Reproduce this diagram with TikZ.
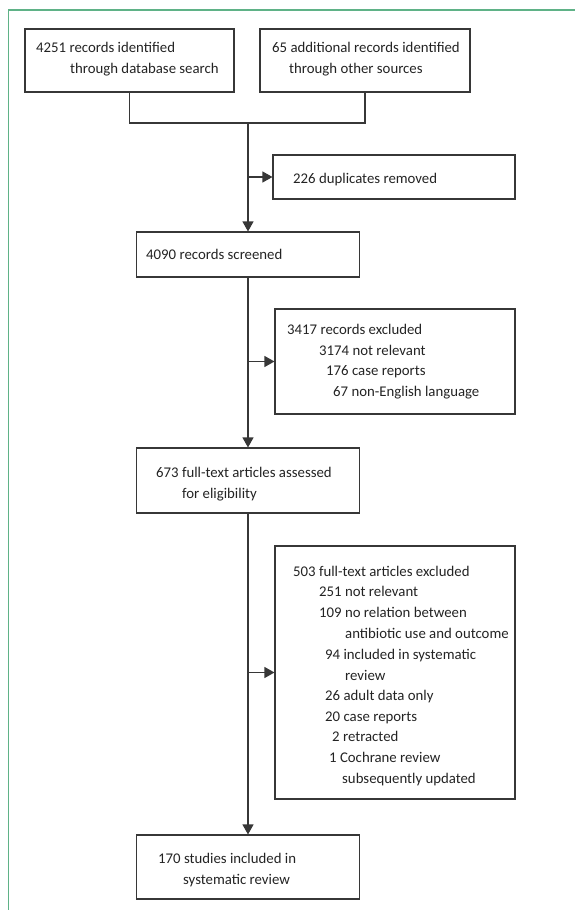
\documentclass[tikz,border=0pt]{standalone}
\usepackage{fontspec}
\setmainfont{Carlito}
\usetikzlibrary{arrows.meta}
\definecolor{framegreen}{RGB}{95,178,135}
\definecolor{linegray}{RGB}{55,55,55}
\definecolor{txtgray}{RGB}{35,35,35}
\tikzset{
  box/.style={draw=linegray, line width=1.1pt, fill=none, inner sep=0pt},
  txt/.style={anchor=base west, inner sep=0pt, text=txtgray, font=\fontsize{14.8}{18}\selectfont},
  conn/.style={draw=linegray, line width=1.1pt},
  arr/.style={conn, -{Triangle[length=10pt,width=11pt]}},
  frame/.style={draw=framegreen, line width=1.5pt}
}
\begin{document}
\begin{tikzpicture}[x=1pt,y=-1pt]
\useasboundingbox (0,0) rectangle (575,910);
% frame
\draw[frame] (8.5,910) -- (8.5,10) -- (575,10);
% boxes
\node[box, minimum width=209pt, minimum height=63pt] (b1) at (129.5,60.5) {};
\node[box, minimum width=210pt, minimum height=63pt] (b2) at (365,60.5) {};
\node[box, minimum width=242pt, minimum height=44pt] (b3) at (394,177) {};
\node[box, minimum width=223pt, minimum height=45pt] (b4) at (248,254.5) {};
\node[box, minimum width=240pt, minimum height=105pt] (b5) at (395,361.5) {};
\node[box, minimum width=223pt, minimum height=65pt] (b6) at (248,480.5) {};
\node[box, minimum width=240pt, minimum height=253pt] (b7) at (395,672.5) {};
\node[box, minimum width=223pt, minimum height=64pt] (b8) at (248,867) {};
% texts
\node[txt] (t1a) at (36,52) {4251 records identified};
\node[txt] (t1b) at (70,73) {through database search};
\node[txt] (t2a) at (272,52) {65 additional records identified};
\node[txt] (t2b) at (289,73) {through other sources};
\node[txt] (t3) at (293,183) {226 duplicates removed};
\node[txt] (t4) at (146,259) {4090 records screened};
\node[txt] (t5a) at (287,334) {3417 records excluded};
\node[txt] (t5b) at (319,355) {3174 not relevant};
\node[txt] (t5c) at (326,375) {176 case reports};
\node[txt] (t5d) at (333,396) {67 non-English language};
\node[txt] (t6a) at (156,477) {673 full-text articles assessed};
\node[txt] (t6b) at (182,498) {for eligibility};
\node[txt] (t7a) at (293,576) {503 full-text articles excluded};
\node[txt] (t7b) at (319,596) {251 not relevant};
\node[txt] (t7c) at (319,617) {109 no relation between};
\node[txt] (t7d) at (345,638) {antibiotic use and outcome};
\node[txt] (t7e) at (325,659) {94 included in systematic};
\node[txt] (t7f) at (345,680) {review};
\node[txt] (t7g) at (325,700) {26 adult data only};
\node[txt] (t7h) at (325,721) {20 case reports};
\node[txt] (t7i) at (332,741) {2 retracted};
\node[txt] (t7j) at (329,762) {1 Cochrane review};
\node[txt] (t7k) at (342,783) {subsequently updated};
\node[txt] (t8a) at (158,863) {170 studies included in};
\node[txt] (t8b) at (183,884) {systematic review};
% connectors
\coordinate (j1) at (248,123);
\draw[conn] (b1.south) |- (j1) -| (b2.south);
\draw[arr] (j1) -- (b4.north);
\draw[arr] (j1 |- b3.west) -- (b3.west);
\draw[arr] (b4.south) -- (b6.north);
\draw[arr] (b4.south |- b5.west) -- (b5.west);
\draw[arr] (b6.south) -- (b8.north);
\draw[arr] (b6.south |- b7.west) -- (b7.west);
\end{tikzpicture}
\end{document}
